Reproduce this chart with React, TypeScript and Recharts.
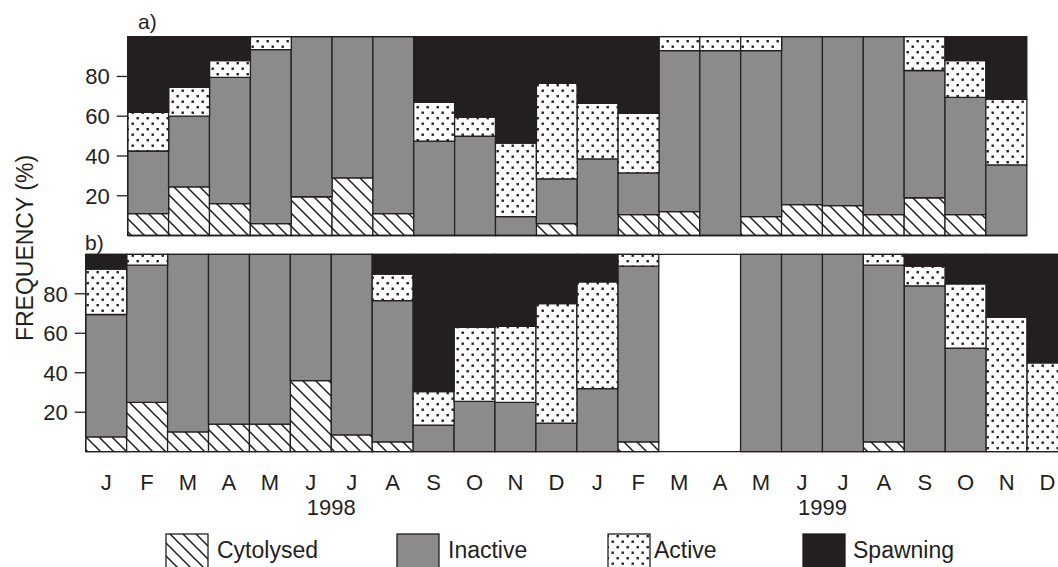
import React from "react";
import { BarChart, Bar, XAxis, YAxis } from "recharts";

const INK = "#231f20";
const GREY = "#8c8a8b";
const FONT = '"Liberation Sans", Arial, Helvetica, sans-serif';

/** Month letters for Jan 1998 .. Dec 1999 (panel b has all of them) */
const months = ["J", "F", "M", "A", "M", "J", "J", "A", "S", "O", "N", "D", "J", "F", "M", "A", "M", "J", "J", "A", "S", "O", "N", "D"];
/** Year text sits between the two J's of each year (under the July tick, shifted half a band) */
const yearLabels: Record<number, string> = { 6: "1998", 18: "1999" };

const seriesNames = ["Cytolysed", "Inactive", "Active", "Spawning"];

// panel a) runs Feb 1998 .. Nov 1999
const startA = 1;
const cytolysedA = [11, 24.5, 16, 6, 19.5, 29, 11, 0, 0, 0, 6, 0, 10.5, 12, 0, 9.5, 15.5, 15, 10.5, 19, 10.5, 0];
const inactiveA = [31.5, 35.5, 63.5, 87.5, 80.5, 71, 89, 47.5, 50, 9.5, 22.5, 38.5, 21, 81, 93, 83.5, 84.5, 85, 89.5, 64, 59, 35.5];
const activeA = [19.5, 14.5, 8.5, 6.5, 0, 0, 0, 19.5, 9.5, 37, 48, 28, 30, 7, 7, 7, 0, 0, 0, 17, 18.5, 33];
const spawningA = [38, 25.5, 12, 0, 0, 0, 0, 33, 40.5, 53.5, 23.5, 33.5, 38.5, 0, 0, 0, 0, 0, 0, 0, 12, 31.5];

// panel b) runs Jan 1998 .. Dec 1999, no sample in Mar/Apr 1999
const startB = 0;
const cytolysedB = [7.5, 25, 10, 14, 14, 36, 8.5, 5, 0, 0, 0, 0, 0, 5, null, null, 0, 0, 0, 5, 0, 0, 0, 0];
const inactiveB = [62, 69.5, 90, 86, 86, 64, 91.5, 71.5, 13.5, 25.5, 25, 14.5, 32, 89, null, null, 100, 100, 100, 89.5, 84, 52.5, 0, 0];
const activeB = [23, 5.5, 0, 0, 0, 0, 0, 13.5, 17, 37.5, 38.5, 60.5, 54, 6, null, null, 0, 0, 0, 5.5, 10, 32.5, 68, 45];
const spawningB = [7.5, 0, 0, 0, 0, 0, 0, 10, 69.5, 37, 36.5, 25, 14, 0, null, null, 0, 0, 0, 0, 6, 15, 32, 55];

const yTicks = [20, 40, 60, 80];

function rows(start: number, cyt: (number | null)[], ina: (number | null)[], act: (number | null)[], spa: (number | null)[]) {
  return cyt.map((_, i) => ({
    key: String(start + i),
    month: months[start + i],
    cytolysed: cyt[i],
    inactive: ina[i],
    active: act[i],
    spawning: spa[i],
  }));
}

const dataA = rows(startA, cytolysedA, inactiveA, activeA, spawningA);
const dataB = rows(startB, cytolysedB, inactiveB, activeB, spawningB);

// plot boxes
const A = { left: 127.7, right: 1026.7, top: 36.7, bottom: 235.5, w: 1058, h: 240 };
const B = { left: 85.7, right: 1068, top: 254.3, bottom: 451.7, w: 1100, h: 567 };
const bandB = (B.right - B.left) / dataB.length;

function Patterns({ id }: { id: string }) {
  return (
    <defs>
      <pattern id={`hatch-${id}`} patternUnits="userSpaceOnUse" width={13} height={13}>
        <rect width={13} height={13} fill="#fff" />
        <path d="M0,0 L13,13 M-2,11 L2,15 M11,-2 L15,2" stroke={INK} strokeWidth={1.5} />
      </pattern>
      <pattern id={`dots-${id}`} patternUnits="userSpaceOnUse" width={10} height={11}>
        <rect width={10} height={11} fill="#fff" />
        <rect x={1.5} y={1.5} width={2.4} height={2.4} fill={INK} />
        <rect x={6.5} y={7} width={2.4} height={2.4} fill={INK} />
      </pattern>
    </defs>
  );
}

const fills = (id: string) => [`url(#hatch-${id})`, GREY, `url(#dots-${id})`, INK];
const keys = ["cytolysed", "inactive", "active", "spawning"];

function stackBars(id: string) {
  const f = fills(id);
  return keys.map((k, i) => (
    <Bar
      key={k}
      dataKey={k}
      name={seriesNames[i]}
      stackId="s"
      fill={f[i]}
      stroke={INK}
      strokeWidth={1.3}
      isAnimationActive={false}
    />
  ));
}

function MonthTick(props: any) {
  const { x, y, payload } = props;
  const i = Number(payload.value);
  return (
    <g>
      <text x={x} y={y + 38} textAnchor="middle" fontSize={22} fontFamily={FONT} fill={INK}>
        {months[i]}
      </text>
      {yearLabels[i] && (
        <text x={x - bandB / 2} y={y + 63} textAnchor="middle" fontSize={22} fontFamily={FONT} fill={INK}>
          {yearLabels[i]}
        </text>
      )}
    </g>
  );
}

const tickStyle = { fontSize: 22, fill: INK, fontFamily: FONT };
const line = { stroke: INK, strokeWidth: 1.3 };

export default function App() {
  const legendItems = [
    { x: 166, tx: 217, fill: "url(#hatch-lg)" },
    { x: 397, tx: 448, fill: GREY },
    { x: 608, tx: 654, fill: "url(#dots-lg)" },
    { x: 803, tx: 853, fill: INK },
  ];

  return (
    <div
      style={{
        position: "fixed",
        left: 0,
        top: 0,
        width: 1058,
        height: 567,
        overflow: "hidden",
        background: "#fff",
      }}
    >
      <div style={{ position: "absolute", left: 0, top: 0 }}>
        <BarChart
          width={A.w}
          height={A.h}
          data={dataA}
          barCategoryGap={0}
          barGap={0}
          margin={{ top: A.top - 1, right: A.w - A.right, bottom: A.h - A.bottom - 1, left: 0 }}
        >
          <Patterns id="a" />
          <XAxis dataKey="key" height={1} tick={false} tickLine={false} axisLine={line} />
          <XAxis xAxisId="top" orientation="top" dataKey="key" height={1} tick={false} tickLine={false} axisLine={line} />
          <YAxis
            width={A.left}
            domain={[0, 100]}
            ticks={yTicks}
            tickSize={11}
            tickMargin={7}
            tick={tickStyle}
            tickLine={line}
            axisLine={line}
          />
          {stackBars("a")}
        </BarChart>
      </div>

      <div style={{ position: "absolute", left: 0, top: 0 }}>
        <BarChart
          width={B.w}
          height={B.h}
          data={dataB}
          barCategoryGap={0}
          barGap={0}
          margin={{ top: B.top - 1, right: B.w - B.right, bottom: 0, left: 0 }}
        >
          <Patterns id="b" />
          <XAxis
            dataKey="key"
            height={B.h - B.bottom}
            interval={0}
            tickSize={0}
            tickMargin={0}
            tickLine={false}
            axisLine={line}
            tick={(p: any) => <MonthTick {...p} />}
          />
          <XAxis xAxisId="top" orientation="top" dataKey="key" height={1} tick={false} tickLine={false} axisLine={line} />
          <YAxis
            width={B.left}
            domain={[0, 100]}
            ticks={yTicks}
            tickSize={11}
            tickMargin={7}
            tick={tickStyle}
            tickLine={line}
            axisLine={line}
          />
          {stackBars("b")}
        </BarChart>
      </div>

      <svg
        width={1058}
        height={567}
        style={{ position: "absolute", left: 0, top: 0, pointerEvents: "none" }}
        fontFamily={FONT}
        fill={INK}
      >
        <Patterns id="lg" />
        <text x={138} y={29} fontSize={21}>a)</text>
        <text x={85} y={250} fontSize={21}>b)</text>
        <text transform="translate(33,248) rotate(-90)" textAnchor="middle" fontSize={23}>
          FREQUENCY (%)
        </text>
        {legendItems.map((it, i) => (
          <g key={seriesNames[i]}>
            <rect x={it.x} y={534} width={42} height={36} fill={it.fill} stroke={INK} strokeWidth={1.3} />
            <text x={it.tx} y={558} fontSize={23}>
              {seriesNames[i]}
            </text>
          </g>
        ))}
      </svg>
    </div>
  );
}
